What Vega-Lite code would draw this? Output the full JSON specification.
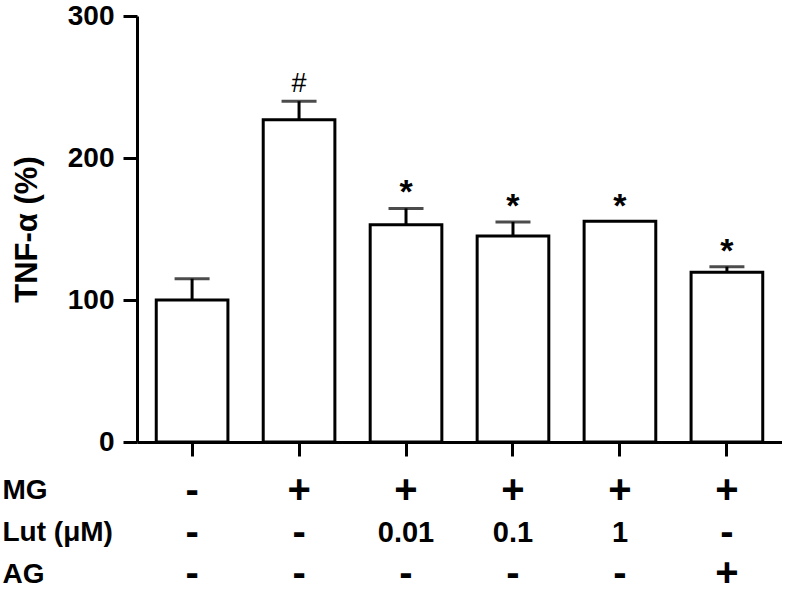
{
  "$schema": "https://vega.github.io/schema/vega-lite/v6.json",
  "padding": {"left": 2, "top": 2, "right": 0, "bottom": 0},
  "config": {
    "font": "Liberation Sans",
    "view": {"stroke": null},
    "axis": {"grid": false, "domainColor": "black", "tickColor": "black", "labelColor": "black", "titleColor": "black"}
  },
  "datasets": {
    "bars": [
      {"g": "1", "value": 100, "upper": 115, "sig": ""},
      {"g": "2", "value": 227, "upper": 240, "sig": "#"},
      {"g": "3", "value": 153, "upper": 164.5, "sig": "*"},
      {"g": "4", "value": 145, "upper": 155, "sig": "*"},
      {"g": "5", "value": 155.5, "upper": null, "sig": "*"},
      {"g": "6", "value": 119.5, "upper": 123.5, "sig": "*"}
    ],
    "table": [
      {"g": "1", "factor": "MG", "label": "-"},
      {"g": "2", "factor": "MG", "label": "+"},
      {"g": "3", "factor": "MG", "label": "+"},
      {"g": "4", "factor": "MG", "label": "+"},
      {"g": "5", "factor": "MG", "label": "+"},
      {"g": "6", "factor": "MG", "label": "+"},
      {"g": "1", "factor": "Lut (μM)", "label": "-"},
      {"g": "2", "factor": "Lut (μM)", "label": "-"},
      {"g": "3", "factor": "Lut (μM)", "label": "0.01"},
      {"g": "4", "factor": "Lut (μM)", "label": "0.1"},
      {"g": "5", "factor": "Lut (μM)", "label": "1"},
      {"g": "6", "factor": "Lut (μM)", "label": "-"},
      {"g": "1", "factor": "AG", "label": "-"},
      {"g": "2", "factor": "AG", "label": "-"},
      {"g": "3", "factor": "AG", "label": "-"},
      {"g": "4", "factor": "AG", "label": "-"},
      {"g": "5", "factor": "AG", "label": "-"},
      {"g": "6", "factor": "AG", "label": "+"}
    ]
  },
  "spacing": 12,
  "vconcat": [
    {
      "width": 645,
      "height": 426,
      "data": {"name": "bars"},
      "encoding": {
        "x": {
          "field": "g", "type": "nominal", "sort": null,
          "scale": {"paddingInner": 0.33, "paddingOuter": 0.18},
          "axis": {"title": null, "labels": false, "ticks": true, "tickSize": 14, "tickWidth": 3, "domainWidth": 3}
        }
      },
      "layer": [
        {
          "mark": {"type": "bar", "fill": "white", "stroke": "black", "strokeWidth": 3},
          "encoding": {
            "y": {
              "field": "value", "type": "quantitative",
              "scale": {"domain": [0, 300], "nice": false},
              "axis": {
                "values": [0, 100, 200, 300], "tickSize": 14, "tickWidth": 3, "domainWidth": 3,
                "labelFontSize": 28, "labelFontWeight": "bold", "labelPadding": 9,
                "title": "TNF-α (%)", "titleFontSize": 31, "titleFontWeight": "bold", "titlePadding": 24
              }
            }
          }
        },
        {
          "transform": [{"filter": "datum.upper != null"}],
          "mark": {"type": "rule", "color": "black", "strokeWidth": 3},
          "encoding": {
            "y": {"field": "value", "type": "quantitative"},
            "y2": {"field": "upper"}
          }
        },
        {
          "transform": [{"filter": "datum.upper != null"}],
          "mark": {"type": "tick", "color": "black", "size": 35, "thickness": 3, "orient": "horizontal"},
          "encoding": {
            "y": {"field": "upper", "type": "quantitative"}
          }
        },
        {
          "transform": [{"filter": "datum.sig == '#'"}],
          "mark": {"type": "text", "fontSize": 27, "baseline": "middle", "dy": -17},
          "encoding": {
            "y": {"field": "upper", "type": "quantitative"},
            "text": {"field": "sig"}
          }
        },
        {
          "transform": [{"filter": "datum.sig == '*' && datum.upper != null"}],
          "mark": {"type": "text", "fontSize": 34, "fontWeight": "bold", "baseline": "middle", "dy": -15},
          "encoding": {
            "y": {"field": "upper", "type": "quantitative"},
            "text": {"field": "sig"}
          }
        },
        {
          "transform": [{"filter": "datum.sig == '*' && datum.upper == null"}],
          "mark": {"type": "text", "fontSize": 34, "fontWeight": "bold", "baseline": "middle", "dy": -14},
          "encoding": {
            "y": {"field": "value", "type": "quantitative"},
            "text": {"field": "sig"}
          }
        }
      ]
    },
    {
      "width": 645,
      "height": 125,
      "data": {"name": "table"},
      "mark": {"type": "text", "fontWeight": "bold", "baseline": "middle"},
      "encoding": {
        "x": {
          "field": "g", "type": "nominal", "sort": null,
          "scale": {"type": "band", "paddingInner": 0.33, "paddingOuter": 0.18},
          "axis": null
        },
        "y": {
          "field": "factor", "type": "nominal", "sort": ["MG", "Lut (μM)", "AG"],
          "axis": {
            "title": null, "domain": false, "ticks": false, "tickSize": 0,
            "labelAlign": "left", "labelPadding": 135, "labelFontSize": 28, "labelFontWeight": "bold", "labelBaseline": "middle"
          }
        },
        "size": {
          "condition": {"test": "datum.label == '+' || datum.label == '-'", "value": 40},
          "value": 29
        },
        "text": {"field": "label"}
      }
    }
  ]
}
